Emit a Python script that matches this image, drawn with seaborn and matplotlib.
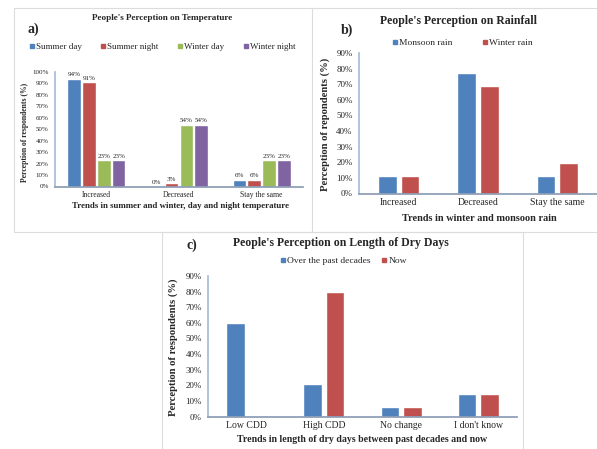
import matplotlib
matplotlib.use("Agg")
import matplotlib.pyplot as plt
from matplotlib.lines import Line2D
from matplotlib.ticker import FuncFormatter
import pandas as pd
import seaborn as sns

# a) temperature
temp_trends = ["Increased", "Decreased", "Stay the same"]
temp_series = ["Summer day", "Summer night", "Winter day", "Winter night"]
summer_day = [94, 0, 6]
summer_night = [91, 3, 6]
winter_day = [23, 54, 23]
winter_night = [23, 54, 23]

# b) rainfall
rain_trends = ["Increased", "Decreased", "Stay the same"]
rain_series = ["Monsoon rain", "Winter rain"]
monsoon_rain = [11.5, 77.5, 11.5]
winter_rain = [11.5, 68.8, 19.8]

# c) dry days
dry_trends = ["Low CDD", "High CDD", "No change", "I don't know"]
dry_series = ["Over the past decades", "Now"]
past_decades = [60, 20.5, 5.8, 14.2]
now = [0, 80, 5.8, 14.2]

COLORS = ["#4F81BD", "#C0504D", "#9BBB59", "#8064A2"]
W, H = 597, 449
SERIF = "Liberation Serif"


def long_df(trends, names, series):
    rows = []
    for name, vals in zip(names, series):
        for t, v in zip(trends, vals):
            rows.append({"trend": t, "series": name, "pct": v})
    return pd.DataFrame(rows)


def px_axes(fig, left, right, top, bottom):
    return fig.add_axes([left / W, 1 - bottom / H, (right - left) / W, (bottom - top) / H])


def style_axes(ax, trends, ymax, tick_fs, ytick_fs):
    ax.set_ylim(0, ymax)
    ax.set_xlim(-0.5, len(trends) - 0.5)
    ax.set_yticks(range(0, ymax + 1, 10))
    ax.yaxis.set_major_formatter(FuncFormatter(lambda v, p: f"{v:.0f}%"))
    ax.set_xticks([i - 0.5 for i in range(len(trends) + 1)])
    ax.set_xticklabels([])
    ax.set_xticks(range(len(trends)), minor=True)
    ax.set_xticklabels(trends, minor=True)
    ax.tick_params(axis="x", which="minor", length=0, labelsize=tick_fs, pad=3)
    ax.tick_params(axis="x", which="major", length=3, color="#8C9DB5", direction="out")
    ax.tick_params(axis="y", length=3, color="#A7BCD9", labelsize=ytick_fs, pad=1.5)
    for lab in ax.get_xticklabels(minor=True) + ax.get_yticklabels():
        lab.set_family(SERIF)
    for s in ["top", "right"]:
        ax.spines[s].set_visible(False)
    ax.spines["left"].set_color("#A7BCD9")
    ax.spines["bottom"].set_color("#8C9DB5")
    ax.set_xlabel("")
    ax.set_ylabel("")
    ax.set_facecolor("white")


def add_legend(fig, names, cx, cy, fs, spacing):
    handles = [Line2D([], [], marker="s", linestyle="none", color=c, markersize=3.5)
               for c in COLORS[:len(names)]]
    fig.legend(handles, names, loc="center", bbox_to_anchor=(cx / W, 1 - cy / H),
               ncol=len(names), frameon=False, handletextpad=0.05, columnspacing=spacing,
               prop={"family": SERIF, "size": fs}, borderaxespad=0, handlelength=0.8)


def txt(fig, x, y, s, fs, bold=True, rot=0):
    fig.text(x / W, 1 - y / H, s, ha="center", va="center", fontsize=fs,
             fontweight="bold" if bold else "normal", family=SERIF, rotation=rot)


sns.set_theme(style="white")
plt.rcParams["font.family"] = [SERIF, "DejaVu Serif"]

fig = plt.figure(figsize=(W / 100, H / 100), dpi=100)
fig.patch.set_facecolor("white")

# panel frames
frame = "#DCDCDC"
for x0, y0, x1, y1 in [(14, 8, 312, 8), (14, 8, 14, 232), (14, 232, 312, 232),
                       (312, 8, 597, 8), (312, 8, 312, 232), (312, 232, 597, 232),
                       (162, 232, 523, 232), (162, 232, 162, 449), (523, 232, 523, 449)]:
    fig.add_artist(Line2D([x0 / W, x1 / W], [1 - y0 / H, 1 - y1 / H], color=frame, lw=0.8))

# a) temperature
ax_a = px_axes(fig, 55, 303, 72, 186.5)
df_a = long_df(temp_trends, temp_series, [summer_day, summer_night, winter_day, winter_night])
sns.barplot(data=df_a, x="trend", y="pct", hue="series", palette=COLORS, width=0.72, gap=0.08,
            ax=ax_a, legend=False, saturation=1)
style_axes(ax_a, temp_trends, 100, 5.5, 5)
for cont in ax_a.containers:
    ax_a.bar_label(cont, labels=[f"{b.get_height():.0f}%" for b in cont], fontsize=5,
                   family=SERIF, padding=1)
txt(fig, 162, 18, "People's Perception on Temperature", 6.6)
txt(fig, 33, 29, "a)", 10)
add_legend(fig, temp_series, 162, 47, 6.5, 2.0)
txt(fig, 181, 206, "Trends in summer and winter, day and night temperature", 6.4)
txt(fig, 25, 132, "Perception of respondents (%)", 5.5, rot=90)

# b) rainfall
ax_b = px_axes(fig, 359, 597, 53, 193.5)
df_b = long_df(rain_trends, rain_series, [monsoon_rain, winter_rain])
sns.barplot(data=df_b, x="trend", y="pct", hue="series", palette=COLORS[:2], width=0.57, gap=0.17,
            ax=ax_b, legend=False, saturation=1)
style_axes(ax_b, rain_trends, 90, 7, 6.5)
txt(fig, 458, 21, "People's Perception on Rainfall", 8.5)
txt(fig, 347, 30, "b)", 10)
add_legend(fig, rain_series, 462, 43, 6.8, 3.0)
txt(fig, 479, 218, "Trends in winter and monsoon rain", 7.4)
txt(fig, 325, 124, "Perception of repondents (%)", 7.7, rot=90)

# c) dry days
ax_c = px_axes(fig, 208, 517, 276, 416.5)
df_c = long_df(dry_trends, dry_series, [past_decades, now])
sns.barplot(data=df_c, x="trend", y="pct", hue="series", palette=COLORS[:2], width=0.58, gap=0.18,
            ax=ax_c, legend=False, saturation=1)
style_axes(ax_c, dry_trends, 90, 7, 6.5)
txt(fig, 341, 243, "People's Perception on Length of Dry Days", 8.5)
txt(fig, 192, 245, "c)", 10)
add_legend(fig, dry_series, 343, 261, 6.8, 1.0)
txt(fig, 362, 440, "Trends in length of dry days between past decades and now", 7.1)
txt(fig, 173, 347, "Perception of respondents (%)", 7.7, rot=90)

fig.savefig("out.png", dpi=100, facecolor="white")
